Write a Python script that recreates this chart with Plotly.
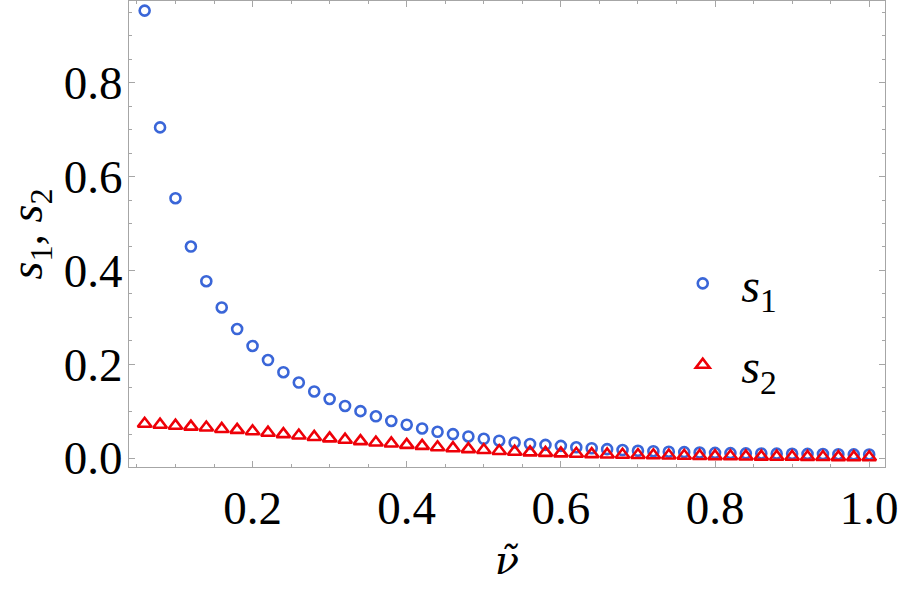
import plotly.graph_objects as go

nu = [0.06, 0.08, 0.10, 0.12, 0.14, 0.16, 0.18, 0.20, 0.22, 0.24, 0.26, 0.28,
      0.30, 0.32, 0.34, 0.36, 0.38, 0.40, 0.42, 0.44, 0.46, 0.48, 0.50, 0.52,
      0.54, 0.56, 0.58, 0.60, 0.62, 0.64, 0.66, 0.68, 0.70, 0.72, 0.74, 0.76,
      0.78, 0.80, 0.82, 0.84, 0.86, 0.88, 0.90, 0.92, 0.94, 0.96, 0.98, 1.00]

s1 = [0.954, 0.705, 0.554, 0.451, 0.377, 0.321, 0.275, 0.239, 0.209, 0.183, 0.161, 0.142,
      0.126, 0.111, 0.100, 0.089, 0.079, 0.071, 0.063, 0.056, 0.051, 0.046, 0.041, 0.037,
      0.033, 0.030, 0.028, 0.026, 0.023, 0.021, 0.019, 0.017, 0.0155, 0.0145, 0.0135, 0.0126,
      0.0118, 0.0111, 0.0105, 0.0100, 0.0097, 0.0094, 0.0091, 0.0088, 0.0085, 0.0082, 0.0079, 0.0076]

s2 = [0.073, 0.071, 0.069, 0.067, 0.065, 0.062, 0.060, 0.057, 0.054, 0.051, 0.048, 0.045,
      0.042, 0.039, 0.036, 0.033, 0.031, 0.028, 0.026, 0.023, 0.021, 0.019, 0.017, 0.015,
      0.0135, 0.012, 0.011, 0.010, 0.009, 0.0083, 0.0076, 0.007, 0.0064, 0.0058, 0.0053, 0.0048,
      0.0044, 0.004, 0.0037, 0.0034, 0.0031, 0.0028, 0.0026, 0.0024, 0.0022, 0.002, 0.0018, 0.0016]

x_ticks = [0.2, 0.4, 0.6, 0.8, 1.0]
y_ticks = [0.0, 0.2, 0.4, 0.6, 0.8]

BLUE = "#3a66d8"
RED = "#ee0008"
FRAME = "#a6a6a6"
FONT = "Liberation Serif, Times New Roman, Times, serif"

fig = go.Figure()
fig.add_trace(go.Scatter(
    x=nu, y=s1, mode="markers", name="<i>s</i><sub>1</sub>", legendgroup="a",
    marker=dict(symbol="circle-open", size=10, color=BLUE, line=dict(width=2.6, color=BLUE)),
))
fig.add_trace(go.Scatter(
    x=nu, y=s2, mode="markers", name="<i>s</i><sub>2</sub>", legendgroup="b",
    marker=dict(symbol="triangle-up-open", size=12, color=RED, line=dict(width=2.6, color=RED)),
))

axis_common = dict(
    showline=True, linecolor=FRAME, linewidth=1, mirror="allticks",
    ticks="inside", ticklen=6, tickcolor=FRAME, tickwidth=1,
    showgrid=False, zeroline=False,
    tickfont=dict(family=FONT, size=47, color="black"),
)

fig.update_xaxes(
    range=[0.0397, 1.0205], tickvals=x_ticks, tickformat=".1f",
    minor=dict(dtick=0.05, tick0=0, ticks="inside", ticklen=3, tickcolor=FRAME, showgrid=False),
    title=dict(text="<i>ν̃</i>", font=dict(family="DejaVu Serif", size=40, color="black"), standoff=12),
    **axis_common,
)
fig.update_yaxes(
    range=[-0.0191, 0.9745], tickvals=y_ticks, tickformat=".1f", ticklabelstandoff=-4,
    minor=dict(dtick=0.05, tick0=0, ticks="inside", ticklen=3, tickcolor=FRAME, showgrid=False),
    title=dict(text="<i>s</i><sub>1</sub>, <i>s</i><sub>2</sub>",
               font=dict(family=FONT, size=46, color="black"), standoff=6),
    **axis_common,
)

fig.update_layout(
    width=900, height=592,
    margin=dict(l=129, r=15, t=1, b=125),
    paper_bgcolor="white", plot_bgcolor="white",
    legend=dict(x=0.708, y=0.475, xanchor="left", yanchor="top",
                font=dict(family=FONT, size=48, color="black"),
                bgcolor="rgba(0,0,0,0)", tracegroupgap=16, itemwidth=67),
    showlegend=True,
)

fig.write_html("out.html")
